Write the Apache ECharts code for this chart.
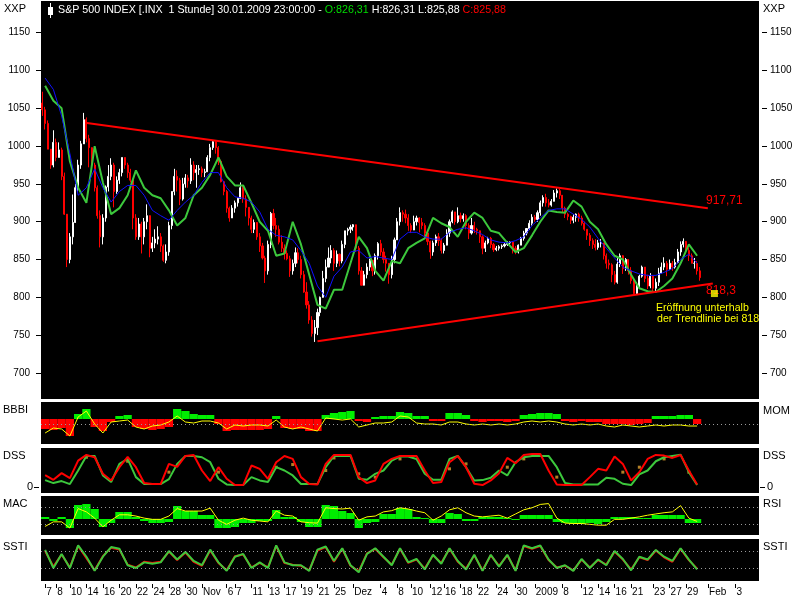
<!DOCTYPE html>
<html><head><meta charset="utf-8">
<script src="https://cdn.jsdelivr.net/npm/echarts@6/dist/echarts.min.js"></script>
<style>html,body{margin:0;padding:0;background:#fff}#c{width:800px;height:600px}</style>
</head><body><div id="c"></div>
<script>
// ---------- DATA ----------
const firstOpen = 1057;
// 3 bars per trading day, 80 trading days (Oct 7 2008 .. Jan 30 2009)
const barClose = [
1048,1030,996, 975,1005,985, 995,960,910, 850,880,899, 945,975,1003, 1035,1010,998, 975,945,908, 880,905,946, 960,975,940, 955,965,985,
975,965,955, 905,880,897, 880,900,908, 865,872,877, 880,868,849, 860,895,940, 960,955,930, 950,958,954, 975,965,969, 970,965,966,
985,998,1006, 998,980,953, 940,918,905, 918,925,931, 945,930,919, 905,890,899, 880,868,852, 835,870,911, 895,890,873, 865,858,851,
835,845,859, 850,830,807, 790,770,752, 760,780,800, 825,840,852, 862,845,857, 848,870,888, 890,893,896, 865,835,816, 830,840,849,
835,855,871, 860,850,845, 830,850,876, 900,912,910, 905,895,889, 900,905,899, 895,885,874, 860,872,880, 875,862,869, 885,900,913,
900,908,904, 908,895,885, 895,890,888, 880,865,872, 878,870,863, 865,867,868, 870,872,873, 865,860,869, 878,885,891, 898,906,903,
912,925,932, 925,922,927, 938,941,935, 918,910,907, 902,906,910, 905,898,890, 882,875,870, 866,872,872, 855,845,843, 830,820,844,
855,838,850, 835,822,805, 815,828,840, 825,815,828, 812,820,832, 840,845,837, 845,840,846, 860,870,874, 862,855,845, 845,835,826];
const barHigh = [
1072,1052,1034, 990,1021,1010, 1005,998,965, 902,885,936, 950,982,1007, 1044,1038,1015, 994,978,948, 915,910,948, 975,984,978, 960,970,985,
985,978,970, 951,910,905, 900,905,923, 896,880,890, 894,885,870, 870,900,940, 970,968,958, 958,963,962, 984,980,975, 975,973,970,
988,1003,1008, 1003,1000,982, 952,942,920, 922,928,932, 952,948,935, 917,908,903, 893,885,872, 855,875,913, 917,905,895, 882,870,862,
855,850,866, 865,855,835, 820,795,775, 770,785,801, 835,850,866, 869,865,862, 858,875,888, 892,896,897, 889,868,840, 835,845,851,
845,858,873, 876,865,855, 845,855,879, 905,919,915, 916,910,898, 908,908,906, 905,898,888, 875,875,883, 885,878,872, 890,903,915,
913,919,912, 911,910,898, 905,900,892, 887,882,875, 880,880,872, 868,869,870, 872,874,874, 874,868,870, 880,888,891, 902,910,909,
915,928,935, 937,930,930, 942,944,944, 927,920,912, 908,910,911, 912,908,900, 890,885,878, 877,876,877, 867,858,850, 845,835,852,
858,856,852, 850,840,825, 820,830,842, 840,830,832, 825,825,839, 846,853,848, 850,848,851, 864,874,878, 869,866,858, 852,848,840];
const barLow = [
1040,1022,996, 970,972,980, 985,955,909, 840,845,870, 912,940,970, 1005,1005,972, 970,940,904, 866,870,900, 940,955,919, 937,950,960,
970,958,952, 890,876,876, 858,870,890, 853,860,865, 870,860,847, 845,855,890, 935,940,922, 928,945,945, 950,955,945, 962,959,959,
966,980,995, 990,975,952, 935,912,900, 906,912,920, 930,925,907, 895,885,885, 876,860,850, 819,830,865, 890,880,870, 860,850,849,
827,830,840, 845,825,806, 785,765,748, 741,750,775, 801,820,840, 845,835,840, 841,845,865, 882,885,888, 860,830,816, 817,825,835,
828,830,850, 855,845,834, 818,825,845, 882,895,900, 898,888,885, 890,895,886, 890,880,869, 851,855,868, 868,858,858, 871,880,898,
896,898,899, 900,890,877, 883,885,883, 872,857,860, 870,865,860, 861,862,864, 866,868,869, 858,857,858, 869,875,882, 889,895,900,
900,908,920, 920,919,920, 927,932,930, 912,905,902, 897,898,900, 900,895,888, 876,868,864, 862,863,866, 850,838,837, 820,817,818,
840,831,835, 830,818,804, 804,812,826, 820,811,812, 806,808,815, 832,836,828, 836,835,838, 845,855,866, 858,848,845, 838,830,822];
// daily indicator values (80 trading days)
const maBlue = [1090,1075,1040,990,935,945,970,945,926,940,948,948,935,915,908,902,915,926,935,952,965,965,945,933,931,926,913,890,882,880,876,862,845,815,800,828,840,860,862,852,854,852,850,
877,886,886,880,877,877,886,890,892,888,883,876,873,872,875,880,895,905,915,917,917,910,903,893,878,865,852,840,835,831,829,829,833,838,850,857,845];
const maGreen = [1080,1060,1050,980,945,925,1000,952,910,918,935,968,945,935,931,915,895,905,935,945,962,985,960,948,948,925,900,888,855,858,900,870,830,790,785,810,810,845,880,865,835,822,848,
845,865,872,878,905,898,893,880,900,912,905,888,885,872,860,865,882,900,915,913,912,928,920,900,890,870,855,850,830,812,808,807,815,825,845,870,855];
const bbbiHist = [-10,-11,-9,-17,5,10,-8,-12,-3,3, 4,-8,-10,-11,-10,-8,10,8,5,4, 4,-5,-12,-11,-11,-11,-11,-10,3,-9, -10,-10,-12,-12,4,6,7,8,-2,-3,
2,3,3,7,6,3,3,-2,-2,6, 6,4,-2,-3,-2,-2,-3,-2,4,5, 6,6,5,-2,-3,-2,-3,-3,-5,-5, -5,-6,-5,-4,3,3,3,4,4,-5];
const bbbiLine = [-14,-9,-10,-17,2,8,-5,-14,-3,-2, -1,-8,-10,-7,-6,-3,3,-3,-4,-2, -2,-4,-10,-6,-7,-6,-6,-7,-1,-8, -10,-8,-10,-12,1,0,-1,0,-8,-6,
-4,-4,-3,3,2,-4,-5,-5,-6,-3, -3,-5,-6,-5,-6,-5,-6,-5,-3,-2, -3,-2,-3,-5,-6,-5,-6,-5,-7,-8, -6,-7,-8,-7,-6,-7,-6,-6,-7,-7];
const dssRed = [36,22,42,27,80,97,90,40,20,60,91,60,12,9,9,70,61,94,97,
50,18,60,25,6,6,65,55,25,75,94,85,30,9,8,70,97,97,97,30,12,20,70,85,94,94,94,50,12,15,75,94,60,10,6,20,42,88,72,97,100,100,50,8,6,6,6,30,55,
50,92,70,20,45,85,97,95,88,97,50,8];
const dssGreen = [21,12,18,9,50,94,94,35,15,70,85,30,9,9,9,24,70,94,94,
90,75,25,8,6,6,30,20,15,60,50,35,9,9,9,60,94,94,94,25,22,40,50,80,92,92,85,40,22,22,85,94,60,20,21,28,50,35,75,90,94,94,94,60,12,8,8,8,8,
28,25,10,6,38,50,78,90,94,98,45,6];
const dssDots = [null,null,null,null,null,90,null,null,null,null,78,null,null,null,null,45,null,null,null,null,null,45,null,null,null,null,null,null,60,null,
68,null,null,null,50,88,null,null,40,null,30,null,null,85,null,null,null,null,null,55,null,70,null,null,null,null,60,null,85,null,
null,null,30,null,null,null,null,null,null,null,45,null,60,null,null,85,null,null,45,null];
const macHist = [2,-2,2,-9,14,15,10,-8,-4,7,7,2,-2,-4,-4,-3,13,8,8,
4,4,-9,-9,-8,-4,-4,-2,-2,9,2,2,-3,-8,-8,14,13,8,6,-9,-4,-3,5,5,11,10,2,1,-4,-4,6,5,-2,-2,2,2,2,1,-1,4,4,4,4,-3,-4,-5,-5,-4,-5,
-3,2,2,2,1,1,4,4,4,4,-4,-4];
const rsiLine = [25,36,36,21,68,60,45,24,40,53,53,50,45,42,42,50,68,62,62,
62,69,40,30,40,45,40,38,36,62,52,50,36,34,33,70,68,67,69,40,48,50,60,63,70,67,62,58,40,50,65,70,58,50,48,50,52,45,55,65,70,78,80,45,33,32,32,30,28,
28,42,42,45,48,52,55,58,60,75,45,37];
const sstiGreen = [84,20,70,20,100,60,10,60,94,88,30,20,40,35,40,80,50,77,45,
30,85,40,10,60,70,20,40,20,100,40,30,30,10,85,96,45,90,30,5,70,90,60,30,90,40,52,15,67,35,90,45,15,67,10,67,25,67,10,100,90,100,50,20,30,10,52,20,50,
30,80,52,12,60,50,84,60,45,90,50,15];
const sstiRed = [80,25,68,22,98,55,12,62,92,85,32,22,42,38,42,78,48,75,42,
28,82,38,12,62,68,22,38,22,98,38,32,28,12,82,94,42,88,28,8,72,88,58,32,88,38,50,18,65,38,88,42,18,65,12,65,28,65,12,98,88,98,48,22,28,12,50,22,48,
32,78,50,15,58,48,82,58,42,88,48,18];
// trend lines: [day position, price]
const upperTrend = [[5.34, 1031], [80.8, 917.71]];
const lowerTrend = [[33.5, 742], [81.4, 818.3]];
const openMarker = [[81.6, 805]];
const priceTicks = [700,750,800,850,900,950,1000,1050,1100,1150];
const dayTotal = 87, slotsPerDay = 3;
const labelSlots = [1,5,10,16,22,28,34,40,46,52,58,67,70,76,82,88,94,100,106,113,123,129,134,141,146,152,158,165,172,179,189,196,202,208,214,222,228,234,242,252];
const labelTexts = ['7','8','10','14','16','20','22','24','28','30','Nov','6','7','11','13','17','19','21','25','Dez','4','8','10','12','16','18','22','24','30','2009','8','12','14','16','21','23','27','29','Feb','3'];

// ---------- BUILD ----------
const FONT = '"Liberation Sans", Arial, sans-serif';
const slotCats = Array.from({length: dayTotal*slotsPerDay}, (_, i) => 's' + i);
const dayCats = Array.from({length: dayTotal}, (_, i) => 'd' + i);
const labelMap = new Map(labelSlots.map((s, i) => [s, labelTexts[i]]));
const candleData = barClose.map((c, i) => [i === 0 ? firstOpen : barClose[i-1], c, barLow[i], barHigh[i]]);

const grids = [
  {top:1, height:398}, {top:402, height:42}, {top:448, height:45}, {top:496, height:39}, {top:539, height:42}
].map(g => Object.assign({left:41, right:41, show:true, backgroundColor:'#000', borderWidth:0}, g));

const hid = (o) => Object.assign({show:false}, o);
const xAxes = [
  hid({type:'category', gridIndex:0, data:slotCats}),
  hid({type:'category', gridIndex:0, data:dayCats}),
  hid({type:'value', gridIndex:0, min:0, max:dayTotal}),
  hid({type:'category', gridIndex:1, data:dayCats}),
  hid({type:'category', gridIndex:2, data:dayCats}),
  hid({type:'category', gridIndex:3, data:dayCats}),
  hid({type:'category', gridIndex:4, data:dayCats}),
  {type:'category', gridIndex:4, data:slotCats, position:'bottom', offset:3,
   axisLine:{show:false}, splitLine:{show:false},
   axisTick:{show:true, alignWithLabel:true, length:4, interval:(i) => labelMap.has(i), lineStyle:{color:'#000'}},
   axisLabel:{show:true, interval:(i) => labelMap.has(i), formatter:(v, i) => labelMap.get(i) || '',
     align:'left', margin:3, color:'#000', fontSize:10, fontFamily:FONT, padding:[0,0,0,1]}}
];
const priceAxis = (pos) => ({type:'value', gridIndex:0, min:665.5, max:1192, position:pos, offset:3,
  axisLine:{show:false}, splitLine:{show:false},
  axisTick:{show:true, length:5, customValues:priceTicks, lineStyle:{color:'#000'}},
  axisLabel:{show:true, customValues:priceTicks, formatter:(v) => String(v), margin:8, color:'#000', fontSize:10, fontFamily:FONT}});
const zeroAxis = (pos, off, mg) => ({type:'value', gridIndex:2, min:-18, max:118, position:pos, offset:off,
  axisLine:{show:false}, splitLine:{show:false},
  axisTick:{show:true, length:5, customValues:[0], lineStyle:{color:'#000'}},
  axisLabel:{show:true, customValues:[0], formatter:(v) => String(v), margin:mg, color:'#000', fontSize:11, fontFamily:FONT}});
const yAxes = [
  priceAxis('left'), priceAxis('right'),
  hid({type:'value', gridIndex:1, min:-25, max:17}),
  zeroAxis('left', 2, 6), zeroAxis('right', 1, 7),
  hid({type:'value', gridIndex:3, min:-16, max:23}),
  hid({type:'value', gridIndex:3, min:4.3, max:98.3}),
  hid({type:'value', gridIndex:4, min:-25.8, max:122.6})
];
const dotted = (vals) => ({silent:true, symbol:'none', label:{show:false}, animation:false,
  lineStyle:{color:'#9a9a9a', type:[1,3], width:1}, data: vals.map(v => ({yAxis:v}))});
const line = (x, y, data, color, w, extra) => Object.assign({type:'line', xAxisIndex:x, yAxisIndex:y, data,
  symbol:'none', lineStyle:{color, width:w}, itemStyle:{color}, silent:true}, extra || {});

const series = [
  {type:'candlestick', xAxisIndex:0, yAxisIndex:0, data:candleData, barWidth:1.6, silent:true,
   itemStyle:{color:'#ffffff', color0:'#ff0000', borderColor:'#ffffff', borderColor0:'#ff0000', borderWidth:1}},
  line(1, 0, maGreen, '#3cc83c', 2),
  line(1, 0, maBlue, '#1010ff', 1),
  line(2, 0, upperTrend, '#ff0000', 2),
  line(2, 0, lowerTrend, '#ff0000', 2),
  {type:'scatter', xAxisIndex:2, yAxisIndex:0, data:openMarker, symbol:'rect', symbolSize:7, itemStyle:{color:'#ffff00'}, silent:true},
  {type:'bar', xAxisIndex:3, yAxisIndex:2, barWidth:'100%', silent:true,
   data: bbbiHist.map(v => ({value:v, itemStyle:{color: v >= 0 ? '#00ee00' : '#ff0000'}}))},
  line(3, 2, bbbiLine, '#ffff00', 1, {markLine: dotted([-5])}),
  line(4, 3, dssGreen, '#3cc83c', 2),
  line(4, 3, dssRed, '#ff0000', 2),
  {type:'scatter', xAxisIndex:4, yAxisIndex:3, data:dssDots, symbol:'rect', symbolSize:3, itemStyle:{color:'#e0a030'}, silent:true},
  {type:'bar', xAxisIndex:5, yAxisIndex:5, barWidth:'100%', silent:true, data:macHist, itemStyle:{color:'#00ee00'}},
  line(5, 6, rsiLine, '#ffff00', 1, {markLine: dotted([70, 30])}),
  line(6, 7, sstiRed, '#ff0000', 2, {markLine: dotted([80, 20])}),
  line(6, 7, sstiGreen, '#3cc83c', 2)
];

const txt = (x, y, text, color, align, size) => ({type:'text', x, y, silent:true,
  style:{text, fill:color, font:(size || 10) + 'px ' + FONT, textAlign:align || 'left', textVerticalAlign:'middle'}});
const graphic = [
  txt(4, 9, 'XXP', '#000', 'left', 11), txt(763, 9, 'XXP', '#000', 'left', 11),
  txt(3, 410, 'BBBI', '#000', 'left', 11), txt(763, 411, 'MOM', '#000', 'left', 11),
  txt(3, 456, 'DSS', '#000', 'left', 11), txt(763, 456, 'DSS', '#000', 'left', 11),
  txt(3, 504, 'MAC', '#000', 'left', 11), txt(763, 504, 'RSI', '#000', 'left', 11),
  txt(3, 547, 'SSTI', '#000', 'left', 11), txt(763, 547, 'SSTI', '#000', 'left', 11),
  {type:'rect', shape:{x:48, y:7, width:5, height:8}, style:{fill:'#fff'}, silent:true},
  {type:'line', shape:{x1:50.5, y1:3, x2:50.5, y2:18}, style:{stroke:'#fff', lineWidth:1}, silent:true},
  {type:'text', x:58, y:10, silent:true, style:{
    text:'{w|S&P 500 INDEX [.INX  1 Stunde] 30.01.2009 23:00:00 - }{g|O:826,31}{w| H:826,31 L:825,88 }{r|C:825,88}',
    textVerticalAlign:'middle', font:'10.7px ' + FONT,
    rich:{w:{fill:'#ffffff', font:'10.7px ' + FONT}, g:{fill:'#00dd00', font:'10.7px ' + FONT}, r:{fill:'#ff0000', font:'10.7px ' + FONT}}}},
  txt(706, 201, '917,71', '#ff0000', 'left', 12),
  txt(706, 291, '818,3', '#ff0000', 'left', 12),
  txt(656, 308, 'Eröffnung unterhalb', '#ffff00', 'left', 10.6),
  txt(657, 319, 'der Trendlinie bei 818', '#ffff00', 'left', 10.6)
];

const chart = echarts.init(document.getElementById('c'));
chart.setOption({animation:false, backgroundColor:'#ffffff', grid:grids, xAxis:xAxes, yAxis:yAxes, series, graphic});
</script></body></html>
